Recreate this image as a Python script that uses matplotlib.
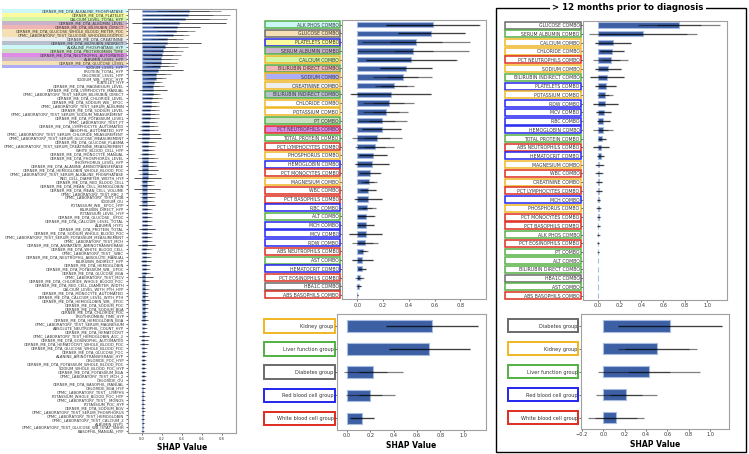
import numpy as np
import matplotlib
matplotlib.use("Agg")
import matplotlib.pyplot as plt
from matplotlib.patches import Rectangle
from matplotlib.transforms import blended_transform_factory

# ---------------- data ----------------
# left panel: all individual lab features
left_features = [
    "CERNER_ME_DTA_ALKALINE_PHOSPHATASE", "CERNER_ME_DTA_PLATELET", "CALCIUM_LEVEL_TOTAL_HYP",
    "CERNER_ME_DTA_ALBUMIN_LEVEL", "CERNER_ME_DTA_BILIRUBIN_DIRECT",
    "CERNER_ME_DTA_GLUCOSE_WHOLE_BLOOD_METER_POC", "CPMC_LABORATORY_TEST_GLUCOSE_WHOLEBLOODPOC",
    "CERNER_ME_DTA_CREATININE", "CERNER_ME_DTA_BILIRUBIN_INDIRECT", "ALKALINE_PHOSPHATASE_HYP",
    "CERNER_ME_DTA_PROTHROMBIN_TIME", "CERNER_ME_DTA_NEUTROPHIL_AUTOMATED", "ALBUMIN_LEVEL_HYP",
    "CERNER_ME_DTA_GLUCOSE_LEVEL", "SODIUM_LEVEL_HYP", "PROTEIN_TOTAL_HYP", "CHLORIDE_LEVEL_HYP",
    "SODIUM_WB__EPOC_HYP", "PLATELET_HYP", "CERNER_ME_DTA_MAGNESIUM_LEVEL",
    "CERNER_ME_DTA_LYMPHOCYTE_MANUAL", "CPMC_LABORATORY_TEST_SERUM_BILIRUBIN_DIRECT",
    "CERNER_ME_DTA_CHLORIDE_LEVEL", "CERNER_ME_DTA_SODIUM_WB__EPOC", "CPMC_LABORATORY_TEST_SERUM_ALBUMIN",
    "CERNER_ME_DTA_SODIUM_LEVEL", "CPMC_LABORATORY_TEST_SERUM_SODIUM_MEASUREMENT",
    "CERNER_ME_DTA_POTASSIUM_LEVEL", "CPMC_LABORATORY_TEST_PT", "CERNER_ME_DTA_LYMPHOCYTE_AUTOMATED",
    "BASOPHIL_AUTOMATED_HYP", "CPMC_LABORATORY_TEST_SERUM_CHLORIDE_MEASUREMENT",
    "CPMC_LABORATORY_TEST_SERUM_GLUCOSE_MEASUREMENT", "CERNER_ME_DTA_GLUCOSE_PLASMA",
    "CPMC_LABORATORY_TEST_SERUM_CREATININE_MEASUREMENT", "WHITE_BLOOD_CELL_HYP",
    "CERNER_ME_DTA_MONOCYTE_MANUAL", "CERNER_ME_DTA_PHOSPHORUS_LEVEL", "PHOSPHORUS_LEVEL_HYP",
    "CERNER_ME_DTA_ALANINE_AMINOTRANSFERASE", "CERNER_ME_DTA_HEMOGLOBIN_WHOLE_BLOOD_POC",
    "CPMC_LABORATORY_TEST_SERUM_ALKALINE_PHOSPHATASE", "RED_CELL_DIAMETER_WIDTH_HYP",
    "CERNER_ME_DTA_RED_BLOOD_CELL", "CERNER_ME_DTA_MEAN_CELL_HEMOGLOBIN", "CERNER_ME_DTA_MEAN_CELL_VOLUME",
    "CPMC_LABORATORY_TEST_RBC_2", "CPMC_LABORATORY_TEST_HGB", "SODIUM_OU", "POTASSIUM_WB__EPOC_HYP",
    "BILIRUBIN_DIRECT_HYP", "POTASSIUM_LEVEL_HYP", "CERNER_ME_DTA_GLUCOSE__EPOC",
    "CERNER_ME_DTA_CALCIUM_LEVEL_TOTAL", "ALBUMIN_HYP1", "CERNER_ME_DTA_PROTEIN_TOTAL",
    "CERNER_ME_DTA_SODIUM_WHOLE_BLOOD_POC", "CPMC_LABORATORY_TEST_SERUM_POTASSIUM_MEASUREMENT",
    "CPMC_LABORATORY_TEST_MCH", "CERNER_ME_DTA_ASPARTATE_AMINOTRANSFERASE",
    "CERNER_ME_DTA_WHITE_BLOOD_CELL", "CPMC_LABORATORY_TEST__WBC", "CERNER_ME_DTA_NEUTROPHIL_ABSOLUTE_MANUAL",
    "BILIRUBIN_INDIRECT_HYP", "CERNER_ME_DTA_HEMOGLOBIN", "CERNER_ME_DTA_POTASSIUM_WB__EPOC",
    "CERNER_ME_DTA_GLUCOSE_BGA", "CPMC_LABORATORY_TEST_MCV", "CERNER_ME_DTA_CHLORIDE_WHOLE_BLOOD_POC",
    "CERNER_ME_DTA_RED_CELL_DIAMETER_WIDTH", "CALCIUM_LEVEL_WITH_PTH_HYP", "CERNER_ME_DTA_MONOCYTE_AUTOMATED",
    "CERNER_ME_DTA_CALCIUM_LEVEL_WITH_PTH", "CERNER_ME_DTA_HEMOGLOBIN_WB__EPOC", "CERNER_ME_DTA_SODIUM_POC",
    "CERNER_ME_DTA_SODIUM_BGA", "CERNER_ME_DTA_CHLORIDE_POC", "PROTHROMBIN_TIME_HYP",
    "CERNER_ME_DTA_HEMOGLOBIN_BGA", "CPMC_LABORATORY_TEST_SERUM_MAGNESIUM", "ABSOLUTE_NEUTROPHIL_COUNT_HYP",
    "CERNER_ME_DTA_HEMATOCRIT", "CPMC_LABORATORY_TEST_HEMOGLOBIN_A1C_2", "CERNER_ME_DTA_EOSINOPHIL_AUTOMATED",
    "CERNER_ME_DTA_HEMATOCRIT_WHOLE_BLOOD_POC", "CERNER_ME_DTA_GLUCOSE_WHOLE_BLOOD_POC",
    "CERNER_ME_DTA_GLUCOSE_POC", "ALANINE_AMINOTRANSFERASE_HYP", "CHLORIDE_POC_HYP",
    "CERNER_ME_DTA_POTASSIUM_WHOLE_BLOOD_POC", "SODIUM_WHOLE_BLOOD_POC_HYP", "CERNER_ME_DTA_POTASSIUM_BGA",
    "CPMC_LABORATORY_TEST_MCH_2", "CHLORIDE_OU", "CERNER_ME_DTA_BASOPHIL_MANUAL", "CHLORIDE_BGA_HYP",
    "CPMC_LABORATORY_TEST__LYMPHS", "POTASSIUM_WHOLE_BLOOD_POC_HYP", "CPMC_LABORATORY_TEST__MONOS",
    "POTASSIUM_POC_HYP", "CERNER_ME_DTA_SODIUM_BGV", "CPMC_LABORATORY_TEST_SERUM_PHOSPHORUS",
    "CPMC_LABORATORY_TEST_HEMOGLOBIN", "CPMC_LABORATORY_TEST_CALCIUM_2", "ALBUMIN_NYP1",
    "CPMC_LABORATORY_TEST_GLUCOSE_WB_ISTAT_SNHH", "BASOPHIL_MANUAL_HYP",
]
left_shap = [
    0.47, 0.458, 0.43, 0.37, 0.35, 0.34, 0.31, 0.254, 0.25, 0.227,
    0.21, 0.2, 0.194, 0.187, 0.177, 0.16, 0.14, 0.137, 0.12, 0.114,
    0.11, 0.107, 0.1, 0.094, 0.087, 0.08, 0.077, 0.077, 0.074, 0.07,
    0.07, 0.067, 0.067, 0.064, 0.06, 0.058,
    0.057, 0.057, 0.056, 0.056, 0.056, 0.055, 0.055, 0.054, 0.054, 0.053,
    0.053, 0.052, 0.051, 0.05, 0.05, 0.049, 0.049, 0.048, 0.048, 0.047,
    0.047, 0.046, 0.046, 0.045, 0.044, 0.043, 0.041, 0.038, 0.037, 0.036,
    0.035, 0.032, 0.031, 0.03, 0.03, 0.029, 0.028,
    0.028, 0.027, 0.027, 0.026, 0.026, 0.025, 0.025, 0.024, 0.023, 0.022,
    0.022, 0.021, 0.02, 0.02, 0.019, 0.018, 0.018, 0.017, 0.016, 0.016,
    0.015, 0.014, 0.014, 0.013, 0.012, 0.012, 0.011, 0.01, 0.01, 0.009,
    0.008, 0.008, 0.007, 0.006,
]
left_err_a = [
    0.32, 0.43, 0.42, 0.47, 0.235, 0.19, 0.165, 0.16, 0.345, 0.23,
    0.2, 0.19, 0.17, 0.16, 0.14, 0.25, 0.15, 0.1, 0.08, 0.11,
    0.14, 0.07, 0.1, 0.08, 0.08, 0.09, 0.09, 0.09, 0.08, 0.09,
    0.09, 0.11, 0.12, 0.08, 0.07, 0.06,
    0.075, 0.1, 0.08, 0.08, 0.1, 0.085, 0.134, 0.065, 0.07, 0.13,
    0.08, 0.075, 0.07, 0.08, 0.05, 0.055, 0.05, 0.05, 0.05, 0.082,
    0.055, 0.055, 0.05, 0.09, 0.055, 0.05, 0.045, 0.05, 0.045, 0.04,
    0.042, 0.075, 0.035, 0.035, 0.035, 0.03, 0.03,
    0.04, 0.03, 0.03, 0.03, 0.028, 0.035, 0.028, 0.028, 0.026, 0.05,
    0.035, 0.04, 0.026, 0.025, 0.025, 0.024, 0.024, 0.023, 0.022, 0.022,
    0.021, 0.02, 0.02, 0.019, 0.018, 0.018, 0.017, 0.016, 0.015, 0.015,
    0.014, 0.013, 0.012, 0.012,
]
left_err_b = [
    0.2, 0.25, 0.24, 0.47, 0.235, 0.11, 0.1, 0.09, 0.345, 0.13,
    0.12, 0.11, 0.1, 0.09, 0.08, 0.25, 0.09, 0.06, 0.05, 0.06,
    0.14, 0.04, 0.06, 0.05, 0.05, 0.05, 0.05, 0.05, 0.05, 0.05,
    0.05, 0.11, 0.12, 0.05, 0.04, 0.035,
    0.045, 0.06, 0.05, 0.05, 0.1, 0.05, 0.134, 0.04, 0.04, 0.13,
    0.05, 0.045, 0.04, 0.08, 0.03, 0.03, 0.03, 0.03, 0.03, 0.082,
    0.03, 0.03, 0.03, 0.09, 0.03, 0.03, 0.025, 0.05, 0.025, 0.025,
    0.025, 0.075, 0.02, 0.02, 0.02, 0.018, 0.018,
    0.04, 0.018, 0.018, 0.018, 0.016, 0.035, 0.016, 0.016, 0.015, 0.05,
    0.035, 0.04, 0.015, 0.015, 0.015, 0.014, 0.014, 0.013, 0.013, 0.013,
    0.012, 0.012, 0.012, 0.011, 0.011, 0.011, 0.01, 0.01, 0.009, 0.009,
    0.008, 0.008, 0.007, 0.007,
]
left_highlight = {
    "CERNER_ME_DTA_ALKALINE_PHOSPHATASE": "#ccf7f7",
    "CERNER_ME_DTA_PLATELET": "#fbfb9e",
    "CALCIUM_LEVEL_TOTAL_HYP": "#d2f7a6",
    "CERNER_ME_DTA_ALBUMIN_LEVEL": "#c7b4cc",
    "CERNER_ME_DTA_BILIRUBIN_DIRECT": "#f0b4b4",
    "CERNER_ME_DTA_GLUCOSE_WHOLE_BLOOD_METER_POC": "#f5dfb5",
    "CPMC_LABORATORY_TEST_GLUCOSE_WHOLEBLOODPOC": "#f5dfb5",
    "CERNER_ME_DTA_CREATININE": "#eeeeee",
    "CERNER_ME_DTA_BILIRUBIN_INDIRECT": "#b7bfce",
    "ALKALINE_PHOSPHATASE_HYP": "#ccf7f7",
    "CERNER_ME_DTA_PROTHROMBIN_TIME": "#c9e0c2",
    "CERNER_ME_DTA_NEUTROPHIL_AUTOMATED": "#e08ae8",
    "ALBUMIN_LEVEL_HYP": "#c7b4cc",
    "CERNER_ME_DTA_GLUCOSE_LEVEL": "#f5dfb5",
    "SODIUM_LEVEL_HYP": "#adadf7",
}

# middle panel: combined lab features
mid_features = [
    "ALK PHOS COMBO", "GLUCOSE COMBO", "PLATELETS COMBO", "SERUM ALBUMIN COMBO", "CALCIUM COMBO",
    "BILIRUBIN DIRECT COMBO", "SODIUM COMBO", "CREATININE COMBO", "BILIRUBIN INDIRECT COMBO",
    "CHLORIDE COMBO", "POTASSIUM COMBO", "PT COMBO", "PCT NEUTROPHILS COMBO", "TOTAL PROTEIN COMBO",
    "PCT LYMPHOCYTES COMBO", "PHOSPHORUS COMBO", "HEMOGLOBIN COMBO", "PCT MONOCYTES COMBO",
    "MAGNESIUM COMBO", "WBC COMBO", "PCT BASOPHILS COMBO", "RBC COMBO", "ALT COMBO", "MCH COMBO",
    "MCV COMBO", "RDW COMBO", "ABS NEUTROPHILS COMBO", "AST COMBO", "HEMATOCRIT COMBO",
    "PCT EOSINOPHILS COMBO", "HBA1C COMBO", "ABS BASOPHILS COMBO",
]
mid_shap = [0.585, 0.575, 0.455, 0.435, 0.42, 0.378, 0.352, 0.287, 0.259, 0.243, 0.22, 0.194,
            0.189, 0.155, 0.135, 0.12, 0.114, 0.098, 0.09, 0.085, 0.083, 0.075, 0.067, 0.065,
            0.065, 0.06, 0.047, 0.04, 0.036, 0.018, 0.01, 0.001]
mid_err_a = [0.365, 0.26, 0.42, 0.43, 0.355, 0.205, 0.23, 0.15, 0.317, 0.197, 0.174, 0.19,
             0.15, 0.195, 0.15, 0.11, 0.133, 0.085, 0.065, 0.062, 0.109, 0.073, 0.067, 0.067,
             0.13, 0.103, 0.033, 0.08, 0.033, 0.036, 0.018, 0.002]
mid_err_b = [0.36, 0.26, 0.2, 0.15, 0.35, 0.2, 0.12, 0.1, 0.31, 0.12, 0.1, 0.1,
             0.15, 0.1, 0.08, 0.11, 0.13, 0.08, 0.04, 0.06, 0.105, 0.04, 0.065, 0.065,
             0.13, 0.06, 0.02, 0.08, 0.03, 0.02, 0.015, 0.002]

# right panel: > 12 months prior to diagnosis
right_features = [
    "GLUCOSE COMBO", "SERUM ALBUMIN COMBO", "CALCIUM COMBO", "CHLORIDE COMBO", "PCT NEUTROPHILS COMBO",
    "SODIUM COMBO", "BILIRUBIN INDIRECT COMBO", "PLATELETS COMBO", "POTASSIUM COMBO", "RDW COMBO",
    "MCV COMBO", "RBC COMBO", "HEMOGLOBIN COMBO", "TOTAL PROTEIN COMBO", "ABS NEUTROPHILS COMBO",
    "HEMATOCRIT COMBO", "MAGNESIUM COMBO", "WBC COMBO", "CREATININE COMBO", "PCT LYMPHOCYTES COMBO",
    "MCH COMBO", "PHOSPHORUS COMBO", "PCT MONOCYTES COMBO", "PCT BASOPHILS COMBO", "ALK PHOS COMBO",
    "PCT EOSINOPHILS COMBO", "PT COMBO", "ALT COMBO", "BILIRUBIN DIRECT COMBO", "HBA1C COMBO",
    "AST COMBO", "ABS BASOPHILS COMBO",
]
right_shap = [0.744, 0.415, 0.143, 0.134, 0.122, 0.095, 0.085, 0.073, 0.067, 0.07, 0.055, 0.052,
              0.049, 0.04, 0.034, 0.027, 0.015, 0.012, 0.012, 0.012, 0.009, 0.009, 0.008, 0.007,
              0.006, 0.005, 0.004, 0.002, 0.002, 0.001, 0.001, 0.001]
right_err_a = [0.375, 0.49, 0.165, 0.11, 0.16, 0.115, 0.158, 0.097, 0.07, 0.115, 0.07, 0.06,
               0.09, 0.04, 0.073, 0.03, 0.04, 0.035, 0.03, 0.03, 0.015, 0.02, 0.012, 0.012,
               0.012, 0.01, 0.006, 0.003, 0.003, 0.002, 0.002, 0.001]
right_err_b = [0.2, 0.4, 0.165, 0.11, 0.08, 0.115, 0.158, 0.097, 0.04, 0.115, 0.07, 0.06,
               0.05, 0.04, 0.073, 0.03, 0.03, 0.03, 0.025, 0.025, 0.012, 0.015, 0.01, 0.01,
               0.01, 0.008, 0.005, 0.002, 0.002, 0.001, 0.001, 0.001]

# grouped features
mid_groups = ["Kidney group", "Liver function group", "Diabetes group", "Red blood cell group",
              "White blood cell group"]
mid_group_shap = [0.728, 0.706, 0.226, 0.2, 0.129]
mid_group_err_a = [0.39, 0.35, 0.25, 0.21, 0.106]
mid_group_err_b = [0.39, 0.35, 0.12, 0.1, 0.106]

right_groups = ["Diabetes group", "Kidney group", "Liver function group", "Red blood cell group",
                "White blood cell group"]
right_group_shap = [0.625, 0.506, 0.428, 0.216, 0.119]
right_group_err_a = [0.49, 0.37, 0.48, 0.285, 0.265]
right_group_err_b = [0.49, 0.3, 0.2, 0.15, 0.2]

# which group each combo belongs to, and highlight fills carried over from the left panel
combo_group = {
    "CALCIUM COMBO": "Kidney group", "SODIUM COMBO": "Kidney group", "CREATININE COMBO": "Kidney group",
    "CHLORIDE COMBO": "Kidney group", "POTASSIUM COMBO": "Kidney group", "PHOSPHORUS COMBO": "Kidney group",
    "MAGNESIUM COMBO": "Kidney group",
    "ALK PHOS COMBO": "Liver function group", "SERUM ALBUMIN COMBO": "Liver function group",
    "BILIRUBIN DIRECT COMBO": "Liver function group", "BILIRUBIN INDIRECT COMBO": "Liver function group",
    "PT COMBO": "Liver function group", "TOTAL PROTEIN COMBO": "Liver function group",
    "ALT COMBO": "Liver function group", "AST COMBO": "Liver function group",
    "GLUCOSE COMBO": "Diabetes group", "HBA1C COMBO": "Diabetes group",
    "PLATELETS COMBO": "Red blood cell group", "HEMOGLOBIN COMBO": "Red blood cell group",
    "RBC COMBO": "Red blood cell group", "MCH COMBO": "Red blood cell group",
    "MCV COMBO": "Red blood cell group", "RDW COMBO": "Red blood cell group",
    "HEMATOCRIT COMBO": "Red blood cell group",
    "PCT NEUTROPHILS COMBO": "White blood cell group", "PCT LYMPHOCYTES COMBO": "White blood cell group",
    "PCT MONOCYTES COMBO": "White blood cell group", "WBC COMBO": "White blood cell group",
    "PCT BASOPHILS COMBO": "White blood cell group", "ABS NEUTROPHILS COMBO": "White blood cell group",
    "PCT EOSINOPHILS COMBO": "White blood cell group", "ABS BASOPHILS COMBO": "White blood cell group",
}
combo_highlight = {
    "ALK PHOS COMBO": "#ccf7f7", "GLUCOSE COMBO": "#f5dfb5", "PLATELETS COMBO": "#fbfb9e",
    "SERUM ALBUMIN COMBO": "#c7b4cc", "CALCIUM COMBO": "#d2f7a6", "BILIRUBIN DIRECT COMBO": "#f0b4b4",
    "SODIUM COMBO": "#adadf7", "CREATININE COMBO": "#eeeeee", "BILIRUBIN INDIRECT COMBO": "#b7bfce",
    "PT COMBO": "#c9e0c2", "PCT NEUTROPHILS COMBO": "#e08ae8",
}

# ---------------- style ----------------
BAR_COLOR = "#3d5fa3"
BAR_EDGE = "#a9bde2"
SPINE = "#a0a0a0"
group_colors = {
    "Kidney group": "#f0b622",
    "Liver function group": "#52b043",
    "Diabetes group": "#6a6a6a",
    "Red blood cell group": "#2424f0",
    "White blood cell group": "#de2d20",
}

W, H = 749, 454
fig = plt.figure(figsize=(W / 100, H / 100), dpi=100)


def px_axes(l, t, r, b):
    return fig.add_axes([l / W, 1 - b / H, (r - l) / W, (b - t) / H])


def shap_bars(ax, values, err_a, err_b, height, lw, elw):
    y = np.arange(len(values))
    ax.barh(y, values, height=height, color=BAR_COLOR, edgecolor=BAR_EDGE, linewidth=lw, zorder=2)
    ax.errorbar(values, y, xerr=err_a, fmt="none", ecolor="black", alpha=0.5, elinewidth=elw,
                capsize=0, zorder=3)
    ax.errorbar(values, y, xerr=err_b, fmt="none", ecolor="black", alpha=0.5, elinewidth=elw,
                capsize=0, zorder=3)
    ax.set_ylim(len(values) - 0.5, -0.5)


def style_axes(ax, xlim, xticks, xfs, yfs):
    ax.set_xlim(*xlim)
    ax.set_xticks(xticks)
    ax.set_xticklabels([f"{t:.1f}".replace("-", "\u2212") for t in xticks])
    for s in ax.spines.values():
        s.set_color(SPINE)
        s.set_linewidth(0.8)
    ax.tick_params(axis="x", labelsize=xfs, length=1.5, width=0.5, pad=1, colors="#333333")
    ax.tick_params(axis="y", labelsize=yfs, length=1.5, width=0.5, pad=1, colors="#333333")


def label_boxes(ax, names, x0, x1, h, lw, fills=None):
    trans = blended_transform_factory(ax.transAxes, ax.transData)
    for i, name in enumerate(names):
        g = combo_group.get(name, name)
        fc = fills.get(name, "white") if fills else "white"
        ax.add_patch(Rectangle((x0, i - h / 2), x1 - x0, h, transform=trans, facecolor=fc,
                               edgecolor=group_colors[g], linewidth=lw, clip_on=False, zorder=0.5))


# ---------- left: all features ----------
ax_l = px_axes(127.7, 9, 236, 433.3)
shap_bars(ax_l, left_shap, left_err_a, left_err_b, 0.6, 0.4, 0.6)
style_axes(ax_l, (-0.144, 0.944), [0.0, 0.2, 0.4, 0.6, 0.8], 2.6, 2.7)
ax_l.set_yticks(range(len(left_features)))
ax_l.set_yticklabels(left_features)
trans_l = blended_transform_factory(ax_l.transAxes, ax_l.transData)
for i, name in enumerate(left_features):
    if name in left_highlight:
        ax_l.add_patch(Rectangle((-1.165, i - 0.5), 1.155, 1.0, transform=trans_l,
                                 facecolor=left_highlight[name], edgecolor="none",
                                 clip_on=False, zorder=0.5))
ax_l.set_xlabel("SHAP Value", fontsize=5.5, fontweight="bold", labelpad=1.5)

# ---------- middle: combo features ----------
ax_m = px_axes(342.3, 20.3, 486, 299.3)
shap_bars(ax_m, mid_shap, mid_err_a, mid_err_b, 0.62, 0.8, 0.9)
style_axes(ax_m, (-0.117, 1.0), [0.0, 0.2, 0.4, 0.6, 0.8], 3.6, 3.3)
ax_m.set_yticks(range(len(mid_features)))
ax_m.set_yticklabels(mid_features)
label_boxes(ax_m, mid_features, -0.538, -0.016, 0.8, 1.1, combo_highlight)

ax_mg = px_axes(337.3, 314.3, 485.7, 430)
shap_bars(ax_mg, mid_group_shap, mid_group_err_a, mid_group_err_b, 0.5, 0.8, 0.9)
style_axes(ax_mg, (-0.083, 1.188), [0.0, 0.2, 0.4, 0.6, 0.8, 1.0], 3.6, 3.6)
ax_mg.set_yticks(range(len(mid_groups)))
ax_mg.set_yticklabels(mid_groups)
label_boxes(ax_mg, mid_groups, -0.496, -0.016, 0.58, 1.4)
ax_mg.set_xlabel("SHAP Value", fontsize=5.5, fontweight="bold", labelpad=1.5)

# ---------- right: > 12 months prior ----------
ax_r = px_axes(583, 20.7, 726.7, 300)
shap_bars(ax_r, right_shap, right_err_a, right_err_b, 0.62, 0.8, 0.9)
style_axes(ax_r, (-0.134, 1.18), [0.0, 0.2, 0.4, 0.6, 0.8, 1.0], 3.6, 3.3)
ax_r.set_yticks(range(len(right_features)))
ax_r.set_yticklabels(right_features)
label_boxes(ax_r, right_features, -0.545, -0.016, 0.8, 1.1)

ax_rg = px_axes(581.3, 314.3, 729.3, 429)
shap_bars(ax_rg, right_group_shap, right_group_err_a, right_group_err_b, 0.5, 0.8, 0.9)
style_axes(ax_rg, (-0.206, 1.18), [-0.2, 0.0, 0.2, 0.4, 0.6, 0.8, 1.0], 3.6, 3.6)
ax_rg.set_yticks(range(len(right_groups)))
ax_rg.set_yticklabels(right_groups)
label_boxes(ax_rg, right_groups, -0.497, -0.02, 0.58, 1.4)
ax_rg.set_xlabel("SHAP Value", fontsize=5.5, fontweight="bold", labelpad=1.5)

# frame around the right panel with its title cut into the top border
fig.add_artist(Rectangle((496 / W, 1 - 451.5 / H), (745.5 - 496) / W, (451.5 - 7.5) / H,
                         transform=fig.transFigure, fill=False, edgecolor="black", linewidth=1.0))
fig.text(628 / W, 1 - 7.5 / H, "> 12 months prior to diagnosis", ha="center", va="center",
         fontsize=6.2, fontweight="bold", zorder=5,
         bbox=dict(facecolor="white", edgecolor="none", pad=2))

fig.savefig("out.png", dpi=100)
